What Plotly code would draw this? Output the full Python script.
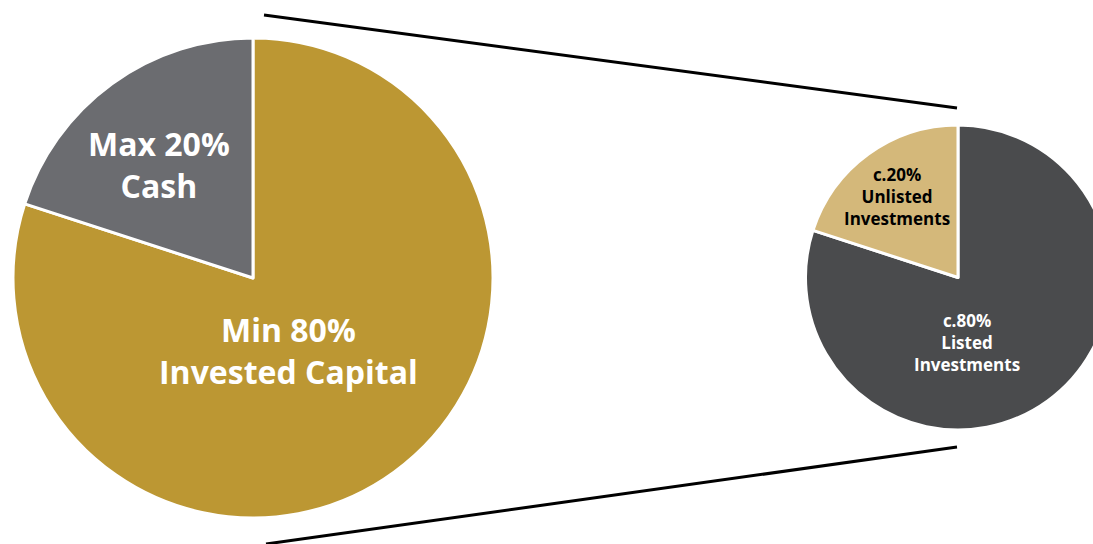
import plotly.graph_objects as go

# ---- data ----
main_labels = ["Min 80%<br>Invested Capital", "Max 20%<br>Cash"]
main_values = [80, 20]
main_colors = ["#bc9733", "#6b6c70"]

sub_labels = ["c.80%<br>Listed<br>Investments", "c.20%<br>Unlisted<br>Investments"]
sub_values = [80, 20]
sub_colors = ["#4a4b4d", "#d4b87a"]

# ---- canvas (wider than window so the right pie is clipped) ----
W, H = 1120, 544
def px(x):
    return x / W
def py(y):
    return 1 - y / H

fig = go.Figure()

fig.add_trace(go.Pie(
    labels=main_labels, values=main_values, sort=False, direction="clockwise",
    rotation=0, textinfo="none", hoverinfo="none", showlegend=False,
    marker=dict(colors=main_colors, line=dict(color="white", width=3)),
    domain=dict(x=[px(13), px(493)], y=[py(518), py(38)]),
))
fig.add_trace(go.Pie(
    labels=sub_labels, values=sub_values, sort=False, direction="clockwise",
    rotation=0, textinfo="none", hoverinfo="none", showlegend=False,
    marker=dict(colors=sub_colors, line=dict(color="white", width=3)),
    domain=dict(x=[px(805), px(1111)], y=[py(430), py(125)]),
))

big_font = dict(family="Open Sans, Arial, sans-serif", size=32, color="white")
small_font = dict(family="Open Sans, Arial, sans-serif", size=17)

annos = [
    dict(text="<b>" + main_labels[1] + "</b>", x=px(159), y=py(164), font=big_font),
    dict(text="<b>" + main_labels[0] + "</b>", x=px(288), y=py(350), font=big_font),
    dict(text="<b>" + sub_labels[1] + "</b>", x=px(897), y=py(197), font=dict(small_font, color="black")),
    dict(text="<b>" + sub_labels[0] + "</b>", x=px(967), y=py(342), font=dict(small_font, color="white")),
]
for a in annos:
    fig.add_annotation(xref="paper", yref="paper", showarrow=False,
                       xanchor="center", yanchor="middle", align="center", **a)

# connector lines
fig.add_shape(type="line", xref="paper", yref="paper",
              x0=px(264), y0=py(15), x1=px(957), y1=py(108),
              line=dict(color="black", width=3))
fig.add_shape(type="line", xref="paper", yref="paper",
              x0=px(266), y0=py(544), x1=px(957), y1=py(447),
              line=dict(color="black", width=3))

fig.update_layout(
    width=W, height=H, autosize=False,
    margin=dict(l=0, r=0, t=0, b=0),
    paper_bgcolor="white", plot_bgcolor="white",
)

fig.write_html("out.html", post_script=(
    "document.body.style.margin='0';"
    "document.body.style.overflow='hidden';"
    "document.documentElement.style.overflow='hidden';"
))
